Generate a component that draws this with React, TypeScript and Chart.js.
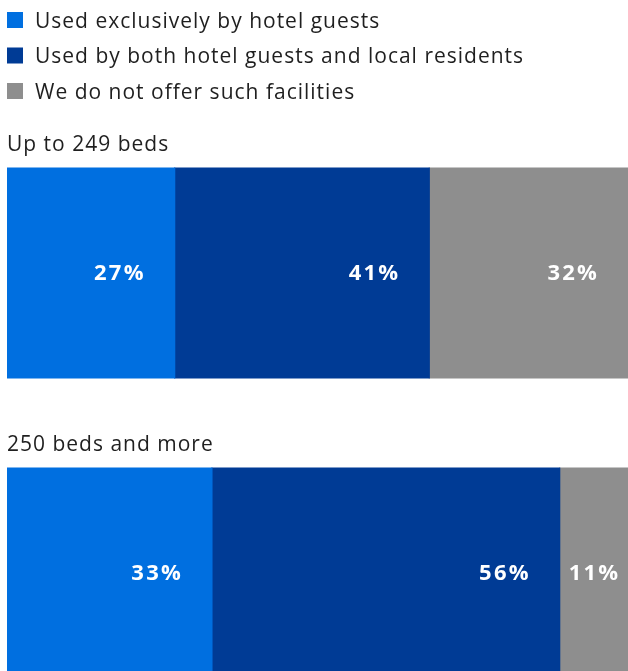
import React, { useEffect, useRef } from "react";
import { Chart, registerables } from "chart.js";

Chart.register(...registerables);

const categories = ["Up to 249 beds", "250 beds and more"];
const seriesNames = [
  "Used exclusively by hotel guests",
  "Used by both hotel guests and local residents",
  "We do not offer such facilities",
];
const exclusiveValues = [27, 33];
const bothValues = [41, 56];
const noneValues = [32, 11];
const seriesColors = ["#006FE0", "#003B95", "#8E8E8E"];

const FONT = "'Open Sans', Lato, sans-serif";

const overlayPlugin = {
  id: "overlay",
  afterDraw(chart: any) {
    const ctx = chart.ctx as CanvasRenderingContext2D;
    ctx.save();
    // Legend
    const legendY = [20, 55.5, 91];
    ctx.textBaseline = "middle";
    ctx.textAlign = "left";
    ctx.font = `400 21px ${FONT}`;
    (ctx as any).letterSpacing = "1px";
    chart.data.datasets.forEach((ds: any, i: number) => {
      ctx.fillStyle = ds.backgroundColor;
      ctx.fillRect(7, legendY[i] - 8, 16, 16);
      ctx.fillStyle = "#1f1f1f";
      ctx.fillText(ds.label, 35, legendY[i] + 2);
    });
    // Category labels above each bar
    const meta0 = chart.getDatasetMeta(0);
    chart.data.labels.forEach((lab: string, j: number) => {
      const el = meta0.data[j];
      if (!el) return;
      const p = el.getProps(["y", "height"], true);
      const top = p.y - p.height / 2;
      ctx.fillStyle = "#1f1f1f";
      ctx.textAlign = "left";
      ctx.fillText(lab, 7, top - 23);
    });
    // Value labels
    ctx.font = `700 22px ${FONT}`;
    (ctx as any).letterSpacing = "2.2px";
    ctx.fillStyle = "#ffffff";
    ctx.textAlign = "left";
    chart.data.datasets.forEach((ds: any, i: number) => {
      const meta = chart.getDatasetMeta(i);
      meta.data.forEach((el: any, j: number) => {
        const p = el.getProps(["x", "y", "base"], true);
        const start = Math.min(p.x, p.base);
        const end = Math.max(p.x, p.base);
        const txt = `${ds.data[j]}%`;
        const w = ctx.measureText(txt).width;
        let x = end - 29 - w;
        if (x < start + 9) x = start + 9;
        ctx.fillText(txt, x, p.y + 1);
      });
    });
    ctx.restore();
  },
};

export default function App() {
  const ref = useRef<HTMLCanvasElement>(null);
  useEffect(() => {
    if (!ref.current) return;
    const chart = new Chart(ref.current, {
      type: "bar",
      data: {
        labels: categories,
        datasets: [
          { label: seriesNames[0], data: exclusiveValues, backgroundColor: seriesColors[0] },
          { label: seriesNames[1], data: bothValues, backgroundColor: seriesColors[1] },
          { label: seriesNames[2], data: noneValues, backgroundColor: seriesColors[2] },
        ],
      },
      options: {
        indexAxis: "y",
        responsive: false,
        animation: false,
        devicePixelRatio: 1,
        layout: { padding: { left: 7, right: 0, top: 123, bottom: 0 } },
        datasets: { bar: { barPercentage: 1, categoryPercentage: 0.7, borderWidth: 0, inflateAmount: 0.6 } },
        scales: {
          x: { stacked: true, min: 0, max: 100, display: false },
          y: { stacked: true, display: false },
        },
        plugins: { legend: { display: false }, tooltip: { enabled: false } },
      },
      plugins: [overlayPlugin],
    } as any);
    return () => chart.destroy();
  }, []);
  return (
    <div style={{ position: "fixed", left: 0, top: 0, width: 628, height: 671, overflow: "hidden", background: "#fff" }}>
      <canvas ref={ref} width={628} height={723} style={{ display: "block" }} />
    </div>
  );
}
